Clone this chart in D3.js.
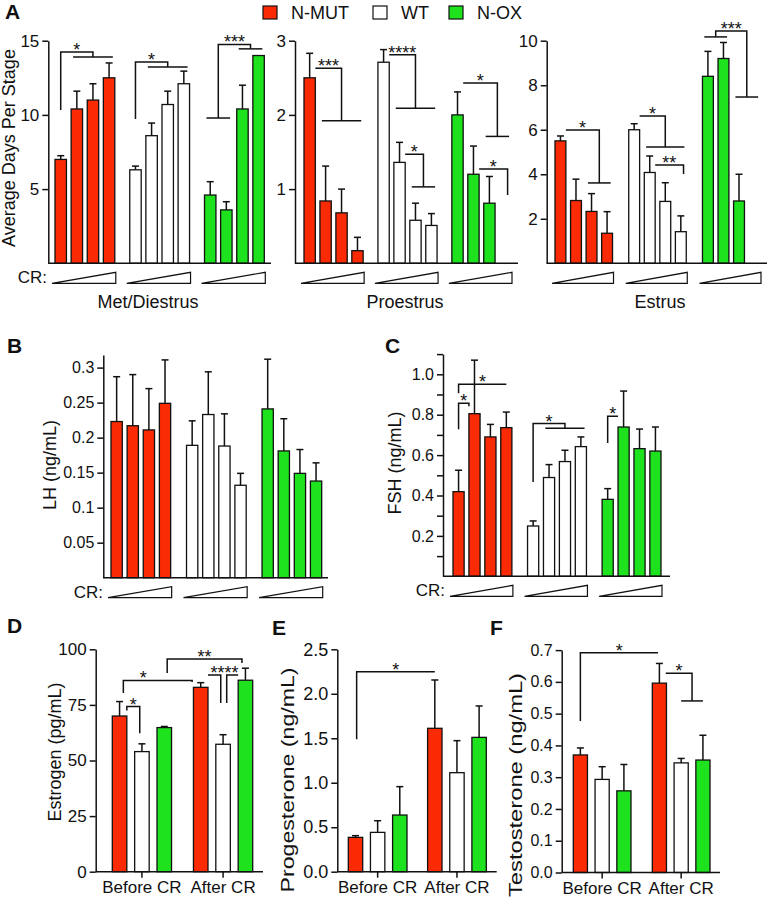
<!DOCTYPE html>
<html>
<head>
<meta charset="utf-8">
<script src="https://cdn.jsdelivr.net/npm/d3@7"></script>
<style>
  body { margin: 0; background: #fff; }
  svg { display: block; }
</style>
</head>
<body>
<div id="fig"></div>
<script>
// ---- data -------------------------------------------------------------
const genotypes = ['N-MUT', 'WT', 'N-OX'];
const genotypeColors = ['#fa2a05', '#ffffff', '#1ee21e'];
const stages = ['Met/Diestrus', 'Proestrus', 'Estrus'];
const periods = ['Before CR', 'After CR'];

// Panel A: days per stage, [genotype][CR level]
const metDiestrusMean = [[7.0, 10.4, 11.0, 12.5], [6.3, 8.6, 10.7, 12.1], [4.6, 3.6, 10.4, 14.0]];
const metDiestrusSem  = [[0.25, 1.2, 1.1, 1.0], [0.25, 0.85, 0.9, 0.85], [0.9, 0.55, 1.6, 0]];
const proestrusMean = [[2.5, 0.84, 0.68, 0.17], [2.71, 1.36, 0.58, 0.51], [2.0, 1.2, 0.81, null]];
const proestrusSem  = [[0.33, 0.47, 0.32, 0.18], [0.17, 0.27, 0.23, 0.16], [0.31, 0.38, 0.36, null]];
const estrusMean = [[5.5, 2.82, 2.33, 1.35], [6.0, 4.08, 2.78, 1.42], [8.4, 9.2, 2.8, null]];
const estrusSem  = [[0.22, 0.96, 0.8, 0.97], [0.27, 0.74, 0.84, 0.71], [1.12, 0.72, 1.2, null]];

// Panel B/C: LH and FSH, [genotype][CR level]
const lhMean = [[0.223, 0.217, 0.211, 0.249], [0.189, 0.233, 0.188, 0.132], [0.241, 0.181, 0.149, 0.138]];
const lhSem  = [[0.064, 0.073, 0.059, 0.062], [0.035, 0.061, 0.046, 0.017], [0.071, 0.046, 0.034, 0.026]];
const fshMean = [[0.419, 0.805, 0.69, 0.736], [0.249, 0.489, 0.568, 0.642], [0.381, 0.739, 0.632, 0.62]];
const fshSem  = [[0.106, 0.265, 0.062, 0.077], [0.025, 0.064, 0.056, 0.048], [0.053, 0.178, 0.097, 0.119]];

// Panel D/E/F: [period][genotype]
const estrogenMean = [[70.0, 54.0, 64.8], [82.9, 57.3, 86.1]];
const estrogenSem  = [[6.5, 3.5, 0.5], [2.1, 4.3, 5.4]];
const progesteroneMean = [[0.386, 0.442, 0.637], [1.612, 1.113, 1.51]];
const progesteroneSem  = [[0.019, 0.131, 0.319], [0.543, 0.36, 0.353]];
const testosteroneMean = [[0.37, 0.293, 0.257], [0.596, 0.345, 0.354]];
const testosteroneSem  = [[0.022, 0.04, 0.083], [0.062, 0.014, 0.078]];

// significance brackets, in (group, bar, value) units
const metDiestrusSig = [
  { l: { g: 0, b: 0, y: 10.33 }, r: { g: 0, b0: 1, b1: 3, y: 13.9 }, top: 14.24, label: '*' },
  { l: { g: 1, b: 0, y: 9.72 }, r: { g: 1, b0: 1, b1: 3, y: 13.23 }, top: 13.56, label: '*' },
  { l: { g: 2, b0: 0, b1: 1, y: 9.79 }, r: { g: 2, b0: 2, b1: 3, y: 14.45 }, top: 14.75, label: '***' }
];
const proestrusSig = [
  { l: { g: 0, b: 0, dx: 0.5 }, r: { g: 0, b0: 1, b1: 3, y: 1.92 }, top: 2.63, label: '***' },
  { l: { g: 1, b: 0, dx: 0.5 }, r: { g: 1, b0: 1, b1: 3, y: 2.09 }, top: 2.81, label: '****' },
  { l: { g: 1, b: 1, dx: 0.5 }, r: { g: 1, b0: 2, b1: 3, y: 1.03 }, top: 1.47, label: '*' },
  { l: { g: 2, b: 0, dx: 0.5 }, r: { g: 2, b0: 2, b1: 3, y: 1.71 }, top: 2.43, label: '*' },
  { l: { g: 2, b: 1, dx: 0.5 }, r: { g: 2, b: 3, dx: 0.2, y: 0.92 }, top: 1.27, label: '*' }
];
const estrusSig = [
  { l: { g: 0, b: 0, dx: 0.5 }, r: { g: 0, b0: 2, b1: 3, y: 3.61 }, top: 5.99, label: '*' },
  { l: { g: 1, b: 0, dx: 0.5 }, r: { g: 1, b0: 1, b1: 3, y: 5.22 }, top: 6.62, label: '*' },
  { l: { g: 1, b: 1, dx: 0.5 }, r: { g: 1, b: 3, dx: 0.25, y: 4.01 }, top: 4.42, label: '**' },
  { l: { g: 2, b0: 0, b1: 1, y: 10.17 }, r: { g: 2, b0: 2, b1: 3, y: 7.47 }, top: 10.44, label: '***' }
];
const fshSig = [
  { l: { g: 0, b: 0, y: 0.728 }, r: { g: 0, b: 1, dx: -0.5, y: 0.842 }, top: 0.857, label: '*' },
  { l: { g: 0, b: 0, y: 0.906 }, r: { g: 0, b: 3 }, top: 0.951, label: '*' },
  { l: { g: 1, b: 0, y: 0.467 }, r: { g: 1, b0: 1, b1: 3, y: 0.733 }, top: 0.756, label: '*' },
  { l: { g: 2, b: 0, y: 0.66 }, r: { g: 2, b: 1, dx: -0.5 }, top: 0.792, label: '*' }
];
const estrogenSig = [
  { l: { g: 0, b: 0, dx: 0.5, y: 72.5 }, r: { g: 0, b: 1, dx: -0.15, y: 62.3 }, top: 74.25, label: '*' },
  { l: { g: 0, b: 0, dx: 0.26, y: 80.3 }, r: { g: 1, b: 0, dx: -0.59, y: 85.3 }, top: 86.0, label: '*', shift: -1 },
  { l: { g: 0, b: 2, dx: 0.2, y: 89.3 }, r: { g: 1, b: 2, dx: -0.24, y: 93.8 }, top: 95.6, label: '**' },
  { l: { g: 1, b: 0, dx: 0.5 }, r: { g: 1, b: 1, dx: -0.16, y: 75.8 }, top: 88.5, label: '****', shift: 0.7 },
  { l: { g: 1, b: 1, dx: 0.25, y: 75.8 }, r: { g: 1, b: 2, dx: -0.5 }, top: 88.5, label: '' }
];
const progesteroneSig = [
  { l: { g: 0, b: 0, dx: 0.08, y: 1.488 }, r: { g: 1, b: 0 }, top: 2.248, label: '*' }
];
const testosteroneSig = [
  { l: { g: 0, b: 0, y: 0.477 }, r: { g: 1, b: 0, dx: -0.1 }, top: 0.692, label: '*' },
  { l: { g: 1, b: 0, dx: 0.45 }, r: { g: 1, b0: 1, b1: 2, y: 0.54, ext: 0 }, top: 0.627, label: '*' }
];

// ---- drawing ----------------------------------------------------------
const FONT = '"Liberation Sans", Arial, Helvetica, sans-serif';
const INK = '#111';

const svg = d3.select('#fig')
  .append('svg')
    .attr('width', 768)
    .attr('height', 898)
    .style('font-family', FONT);

function panel(cfg) {
  const y = d3.scaleLinear().domain([0, cfg.max]).range([cfg.base, cfg.top]);
  const outer = d3.scaleBand()
    .domain(d3.range(cfg.mean.length))
    .range(cfg.bars)
    .paddingInner(cfg.padG)
    .paddingOuter(0);
  const inner = d3.scaleBand()
    .domain(d3.range(cfg.slots))
    .range([0, outer.bandwidth()])
    .paddingInner(cfg.padB)
    .paddingOuter(0);
  const bw = inner.bandwidth();
  const cx = (g, b) => outer(g) + inner(b) + bw / 2;

  const plot = svg.append('g');

  const rows = [];
  cfg.mean.forEach((arr, gi) => arr.forEach((v, bi) => {
    if (v != null) rows.push({ gi, bi, v, e: cfg.sem[gi][bi] });
  }));

  // bars
  plot.append('g').selectAll('rect')
    .data(rows)
    .join('rect')
      .attr('x', d => outer(d.gi) + inner(d.bi))
      .attr('width', bw)
      .attr('y', d => y(d.v))
      .attr('height', d => cfg.base - y(d.v))
      .attr('fill', d => genotypeColors[cfg.colorBy === 'bar' ? d.bi : d.gi])
      .attr('stroke', INK)
      .attr('stroke-width', 1.3);

  // error bars (upper only)
  const eb = plot.append('g').attr('stroke', INK).attr('stroke-width', 1.5);
  const withErr = rows.filter(d => d.e > 0);
  eb.selectAll('line.v').data(withErr).join('line').attr('class', 'v')
    .attr('x1', d => cx(d.gi, d.bi)).attr('x2', d => cx(d.gi, d.bi))
    .attr('y1', d => y(d.v)).attr('y2', d => y(d.v + d.e));
  eb.selectAll('line.c').data(withErr).join('line').attr('class', 'c')
    .attr('x1', d => cx(d.gi, d.bi) - 3.5).attr('x2', d => cx(d.gi, d.bi) + 3.5)
    .attr('y1', d => y(d.v + d.e)).attr('y2', d => y(d.v + d.e));

  // y axis
  const ax = plot.append('g')
    .attr('transform', `translate(${cfg.x0},0)`)
    .call(d3.axisLeft(y).tickValues(cfg.ticks).tickFormat(cfg.fmt)
      .tickSize(6).tickSizeOuter(0).tickPadding(3));
  ax.attr('font-family', null).attr('font-size', null);
  ax.select('.domain').attr('stroke', INK).attr('stroke-width', 1.5);
  ax.selectAll('.tick line').attr('stroke', INK).attr('stroke-width', 1.5);
  ax.selectAll('.tick text').attr('font-size', cfg.tickFont).attr('fill', INK);
  if (cfg.minor) {
    const mx = plot.append('g')
      .attr('transform', `translate(${cfg.x0},0)`)
      .call(d3.axisLeft(y).tickValues(cfg.minor).tickFormat('').tickSize(6).tickSizeOuter(0));
    mx.select('.domain').remove();
    mx.selectAll('.tick line').attr('stroke', INK).attr('stroke-width', 1.5);
  }

  // baseline
  plot.append('line')
    .attr('x1', cfg.x0).attr('x2', cfg.x1)
    .attr('y1', cfg.base).attr('y2', cfg.base)
    .attr('stroke', INK).attr('stroke-width', 1.5);

  // category axis for D-F
  if (cfg.xLabels) {
    const bx = plot.append('g')
      .attr('transform', `translate(0,${cfg.base})`)
      .call(d3.axisBottom(outer).tickFormat(i => cfg.xLabels[i]).tickSize(6).tickPadding(3));
    bx.attr('font-family', null).attr('font-size', null);
    bx.select('.domain').remove();
    bx.selectAll('.tick line').attr('stroke', INK).attr('stroke-width', 1.5);
    bx.selectAll('.tick text').attr('font-size', 17).attr('fill', INK);
  }

  // CR wedges for A-C
  if (cfg.wedges) {
    const by = cfg.base + 20;
    const W = outer.bandwidth();
    plot.append('g').selectAll('path')
      .data(d3.range(cfg.mean.length))
      .join('path')
        .attr('d', g => `M${outer(g) - 3},${by} L${outer(g) + W + 1},${by - 11} L${outer(g) + W + 1},${by} Z`)
        .attr('fill', '#fff')
        .attr('stroke', INK)
        .attr('stroke-width', 1.2);
    if (cfg.crLabel) {
      plot.append('text')
        .attr('x', outer(0) - 8).attr('y', by)
        .attr('text-anchor', 'end')
        .attr('font-size', 17)
        .attr('fill', INK)
        .text('CR:');
    }
  }

  // significance brackets
  const endX = e => (e.b0 != null)
    ? ((cx(e.g, e.b0) - (e.ext ?? 0.33) * bw) + (cx(e.g, e.b1) + (e.ext ?? 0.33) * bw)) / 2
    : cx(e.g, e.b) + (e.dx || 0) * bw;
  const sg = plot.append('g');
  (cfg.sig || []).forEach(s => {
    const lx = endX(s.l), rx = endX(s.r);
    const ty = y(s.top);
    const ly = y(s.l.y ?? s.top), ry = y(s.r.y ?? s.top);
    sg.append('path')
      .attr('d', `M${lx},${ly} V${ty} H${rx} V${ry}`)
      .attr('fill', 'none').attr('stroke', INK).attr('stroke-width', 1.5);
    [s.l, s.r].filter(e => e.b0 != null).forEach(e => {
      const ext = e.ext ?? 0.33;
      sg.append('line')
        .attr('x1', cx(e.g, e.b0) - ext * bw).attr('x2', cx(e.g, e.b1) + ext * bw)
        .attr('y1', y(e.y)).attr('y2', y(e.y))
        .attr('stroke', INK).attr('stroke-width', 1.5);
    });
    if (s.label) {
      sg.append('text')
        .attr('x', (lx + rx) / 2 + (s.shift || 0) * bw)
        .attr('y', ty + 4)
        .attr('text-anchor', 'middle')
        .attr('font-size', 18)
        .attr('fill', INK)
        .text(s.label);
    }
  });
}

const fmt1 = d3.format('.1f');

// Panel A
panel({ x0: 48.3, x1: 271, bars: [55, 264.3], base: 263.3, top: 40.7, max: 15,
  ticks: [5, 10, 15], fmt: d3.format('d'), tickFont: 17, mean: metDiestrusMean, sem: metDiestrusSem,
  slots: 4, padG: 0.2, padB: 0.29, wedges: true, crLabel: true, sig: metDiestrusSig });
panel({ x0: 295, x1: 518, bars: [304, 511], base: 263.3, top: 40.7, max: 3,
  ticks: [1, 2, 3], fmt: d3.format('d'), tickFont: 17, mean: proestrusMean, sem: proestrusSem,
  slots: 4, padG: 0.2, padB: 0.29, wedges: true, sig: proestrusSig });
panel({ x0: 546.7, x1: 767, bars: [555, 760], base: 263.3, top: 40.7, max: 10,
  ticks: [2, 4, 6, 8, 10], fmt: d3.format('d'), tickFont: 17, mean: estrusMean, sem: estrusSem,
  slots: 4, padG: 0.22, padB: 0.3, wedges: true, sig: estrusSig });

// Panel B
panel({ x0: 103.3, x1: 328, bars: [111, 321.7], base: 577.7, top: 355, max: 0.318,
  ticks: [0.05, 0.1, 0.15, 0.2, 0.25, 0.3], fmt: d => String(+d.toFixed(2)), tickFont: 16,
  mean: lhMean, sem: lhSem, slots: 4, padG: 0.21, padB: 0.3, wedges: true, crLabel: true });

// Panel C
panel({ x0: 443, x1: 670, bars: [453, 661], base: 576.3, top: 354.1, max: 1.1,
  ticks: [0.2, 0.4, 0.6, 0.8, 1.0], minor: [0.1, 0.3, 0.5, 0.7, 0.9, 1.1], fmt: fmt1, tickFont: 16,
  mean: fshMean, sem: fshSem, slots: 4, padG: 0.21, padB: 0.3, wedges: true, crLabel: true, sig: fshSig });

// Panels D, E, F
panel({ x0: 95.7, x1: 263, bars: [112.3, 252.7], base: 871.7, top: 649.3, max: 100,
  ticks: [0, 25, 50, 75, 100], fmt: d3.format('d'), tickFont: 17,
  mean: estrogenMean, sem: estrogenSem, slots: 3, padG: 0.27, padB: 0.35, colorBy: 'bar',
  xLabels: periods, sig: estrogenSig });
panel({ x0: 337.3, x1: 496.7, bars: [348.3, 486.3], base: 871.7, top: 649.3, max: 2.5,
  ticks: [0, 0.5, 1, 1.5, 2, 2.5], fmt: fmt1, tickFont: 18,
  mean: progesteroneMean, sem: progesteroneSem, slots: 3, padG: 0.26, padB: 0.35, colorBy: 'bar',
  xLabels: periods, sig: progesteroneSig });
panel({ x0: 561.7, x1: 720, bars: [573.3, 710], base: 872.5, top: 650.1, max: 0.7,
  ticks: [0, 0.1, 0.2, 0.3, 0.4, 0.5, 0.6, 0.7], fmt: fmt1, tickFont: 16,
  mean: testosteroneMean, sem: testosteroneSem, slots: 3, padG: 0.27, padB: 0.35, colorBy: 'bar',
  xLabels: periods, sig: testosteroneSig });

// ---- labels -----------------------------------------------------------
const yTitles = [
  { text: 'Average Days Per Stage', x: 15, y: 148 },
  { text: 'LH (ng/mL)', x: 56, y: 465 },
  { text: 'FSH (ng/mL)', x: 401, y: 463 },
  { text: 'Estrogen (pg/mL)', x: 61, y: 752 },
  { text: 'Progesterone (ng/mL)', x: 294, y: 780, len: 225 },
  { text: 'Testosterone (ng/mL)', x: 522, y: 785, len: 224 }
];
yTitles.forEach(t => {
  const el = svg.append('text')
    .attr('transform', `translate(${t.x},${t.y}) rotate(-90)`)
    .attr('text-anchor', 'middle')
    .attr('font-size', 18)
    .attr('fill', INK)
    .text(t.text);
  if (t.len) el.attr('textLength', t.len).attr('lengthAdjust', 'spacingAndGlyphs');
});

const stageX = [148, 405, 660];
svg.append('g').selectAll('text')
  .data(stages)
  .join('text')
    .attr('x', (d, i) => stageX[i])
    .attr('y', 308)
    .attr('text-anchor', 'middle')
    .attr('font-size', 18)
    .attr('fill', INK)
    .text(d => d);

const letters = [['A', 5, 19], ['B', 7, 353], ['C', 385, 353], ['D', 7, 633], ['E', 272, 635], ['F', 490, 635]];
svg.append('g').selectAll('text')
  .data(letters)
  .join('text')
    .attr('x', d => d[1])
    .attr('y', d => d[2])
    .attr('font-size', 21)
    .attr('font-weight', 'bold')
    .attr('fill', INK)
    .text(d => d[0]);

// legend
const legendX = [263, 373, 449];
const legend = svg.append('g').selectAll('g')
  .data(genotypes)
  .join('g')
    .attr('transform', (d, i) => `translate(${legendX[i]},6)`);
legend.append('rect')
  .attr('width', 14).attr('height', 13)
  .attr('fill', (d, i) => genotypeColors[i])
  .attr('stroke', INK).attr('stroke-width', 1.2);
legend.append('text')
  .attr('x', 28).attr('y', 13)
  .attr('font-size', 18)
  .attr('fill', INK)
  .text(d => d);
</script>
</body>
</html>
